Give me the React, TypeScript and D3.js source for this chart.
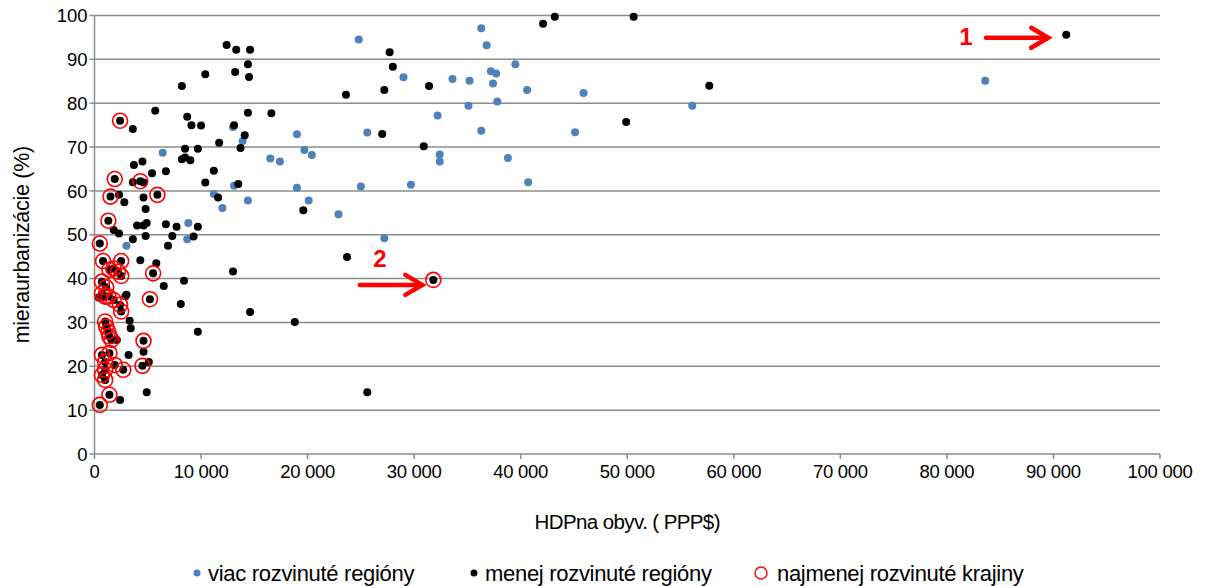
import { useRef, useEffect } from 'react'
import * as d3 from 'd3'

// [HDP na obyv. (PPP$), miera urbanizácie (%)]
const moreDeveloped = [
  [36300, 97.1], [24800, 94.5], [36800, 93.2], [39500, 88.9], [37200, 87.3], [37700, 86.8],
  [29000, 85.9], [33600, 85.5], [35200, 85.1], [37400, 84.5], [40600, 83.0], [37800, 80.4],
  [35100, 79.4], [32200, 77.2], [19000, 72.9], [25600, 73.3], [36300, 73.7], [19700, 69.3],
  [20400, 68.2], [16500, 67.4], [17400, 66.7], [32400, 68.3], [32400, 66.7], [38800, 67.5],
  [19000, 60.7], [25000, 61.0], [29700, 61.4], [40700, 62.0], [20100, 57.8], [22900, 54.7],
  [27200, 49.2], [45900, 82.3], [45100, 73.4], [56100, 79.4], [83600, 85.1], [13000, 74.6],
  [13900, 71.4], [6400, 68.7], [13100, 61.2], [11200, 59.3], [12000, 56.1], [14400, 57.8],
  [8800, 52.7], [3000, 47.5], [8700, 49.0],
]

const lessDeveloped = [
  [43200, 99.7], [42100, 98.1], [50600, 99.7], [91200, 95.6], [27700, 91.6], [28000, 88.3],
  [31400, 83.9], [27200, 83.0], [23600, 81.9], [57700, 84.0], [49900, 75.7], [16600, 77.7],
  [27000, 73.0], [30900, 70.2], [19600, 55.6], [23700, 44.9], [18800, 30.1], [25600, 14.1],
  [12400, 93.3], [13300, 92.2], [14600, 92.2], [14400, 88.9], [13200, 87.1], [14500, 86.0],
  [10400, 86.6], [8200, 83.9], [5700, 78.3], [3600, 74.1], [8700, 76.9], [9100, 75.0],
  [10000, 74.9], [13100, 75.0], [14400, 77.8], [14100, 72.7], [13700, 69.8], [11700, 71.0],
  [8500, 69.6], [9700, 69.6], [8200, 67.2], [9000, 67.0], [8500, 67.6], [3700, 65.9],
  [4500, 66.7], [5400, 64.0], [6700, 64.5], [11200, 64.6], [10400, 61.9], [13500, 61.6],
  [3600, 62.0], [4600, 61.9], [2300, 59.1], [2800, 57.4], [4600, 58.5], [4800, 55.9],
  [11600, 58.5], [4000, 52.1], [4600, 52.1], [4900, 52.7], [6700, 52.4], [7700, 51.8],
  [9700, 51.8], [1800, 51.1], [2300, 50.3], [4800, 49.7], [3600, 49.0], [7300, 49.7],
  [6900, 47.5], [9300, 49.6], [4300, 44.2], [5800, 43.5], [8400, 39.5], [6500, 38.3],
  [13000, 41.6], [400, 35.7], [2900, 36.0], [8100, 34.2], [3300, 30.4], [3400, 28.7],
  [14600, 32.4], [2100, 26.0], [9700, 27.9], [4600, 23.3], [3200, 22.6], [5100, 21.0],
  [4900, 14.1], [2400, 12.3], [3000, 36.3],
]

const leastDeveloped = [
  [2400, 76.0], [1900, 62.7], [4300, 62.2], [5900, 59.1], [1500, 58.7], [1300, 53.2],
  [500, 48.0], [800, 44.0], [2500, 44.0], [1800, 42.3], [2200, 41.6], [1400, 42.0],
  [2500, 40.6], [5500, 41.2], [700, 39.3], [1100, 38.0], [700, 36.6], [1000, 35.9],
  [1300, 35.9], [1800, 35.1], [2400, 34.0], [2500, 32.5], [5200, 35.3], [1000, 30.2],
  [1100, 29.0], [1300, 27.9], [1400, 26.8], [1600, 26.0], [4600, 25.8], [700, 22.6],
  [1400, 23.0], [1000, 21.0], [1900, 20.3], [2700, 19.2], [1000, 19.2], [700, 18.0],
  [4500, 20.1], [1000, 16.9], [1400, 13.5], [500, 11.2], [31800, 39.7],
]

const xTicks = [0, 10000, 20000, 30000, 40000, 50000, 60000, 70000, 80000, 90000, 100000]
const yTicks = [0, 10, 20, 30, 40, 50, 60, 70, 80, 90, 100]

const legendItems = ['viac rozvinuté regióny', 'menej rozvinuté regióny', 'najmenej rozvinuté krajiny']

const W = 1207
const H = 586
const margin = { top: 15.5, right: 47, bottom: 132, left: 94.5 }
const font = 'Arial, "Liberation Sans", sans-serif'
const gridColor = '#8c8c8c'

const App = () => {
  const chartRef = useRef<SVGGElement>(null)

  useEffect(() => {
    const g = d3.select(chartRef.current)
    g.selectAll('*').remove()

    const x = d3.scaleLinear().domain([0, 100000]).range([margin.left, W - margin.right])
    const y = d3.scaleLinear().domain([0, 100]).range([H - margin.bottom, margin.top])
    const fmt = (v: number) => d3.format(',')(v).replace(/,/g, '\u00a0')

    // gridlines
    g.append('g')
      .selectAll('line')
      .data(yTicks.slice(1))
      .join('line')
      .attr('x1', margin.left).attr('x2', x(100000))
      .attr('y1', d => y(d)).attr('y2', d => y(d))
      .attr('stroke', gridColor).attr('stroke-width', 1.5)

    // y axis
    const yAxis = g.append('g')
    yAxis.append('line')
      .attr('x1', margin.left).attr('x2', margin.left)
      .attr('y1', y(0)).attr('y2', y(100))
      .attr('stroke', gridColor).attr('stroke-width', 1.5)
    yAxis.selectAll('line.tick').data(yTicks).join('line').attr('class', 'tick')
      .attr('x1', margin.left - 5).attr('x2', margin.left)
      .attr('y1', d => y(d)).attr('y2', d => y(d))
      .attr('stroke', gridColor).attr('stroke-width', 1.5)
    yAxis.selectAll('text').data(yTicks).join('text')
      .attr('x', margin.left - 7).attr('y', d => y(d))
      .attr('dy', '0.36em').attr('text-anchor', 'end')
      .attr('font-family', font).attr('font-size', 18.5).attr('fill', '#000')
      .text(d => d)

    // x axis
    const xAxis = g.append('g')
    xAxis.append('line')
      .attr('x1', margin.left).attr('x2', x(100000))
      .attr('y1', y(0)).attr('y2', y(0))
      .attr('stroke', gridColor).attr('stroke-width', 1.5)
    xAxis.selectAll('line.tick').data(xTicks).join('line').attr('class', 'tick')
      .attr('x1', d => x(d)).attr('x2', d => x(d))
      .attr('y1', y(0)).attr('y2', y(0) + 5)
      .attr('stroke', gridColor).attr('stroke-width', 1.5)
    xAxis.selectAll('text').data(xTicks).join('text')
      .attr('x', d => x(d)).attr('y', y(0) + 24)
      .attr('text-anchor', 'middle')
      .attr('font-family', font).attr('font-size', 18.5).attr('fill', '#000')
      .attr('letter-spacing', -0.3)
      .text(d => fmt(d))

    // axis titles
    g.append('text')
      .attr('x', (margin.left + x(100000)) / 2).attr('y', 529)
      .attr('text-anchor', 'middle')
      .attr('font-family', font).attr('font-size', 20.5).attr('letter-spacing', -0.6)
      .text('HDPna obyv. ( PPP$)')
    g.append('text')
      .attr('transform', `translate(29, ${(y(0) + y(100)) / 2 + 10}) rotate(-90)`)
      .attr('text-anchor', 'middle')
      .attr('font-family', font).attr('font-size', 21.5).attr('letter-spacing', -0.3)
      .text('mieraurbanizácie (%)')

    // points
    g.append('g').selectAll('circle').data(moreDeveloped).join('circle')
      .attr('cx', d => x(d[0])).attr('cy', d => y(d[1])).attr('r', 4)
      .attr('fill', '#4f81bd')
    g.append('g').selectAll('circle').data([...lessDeveloped, ...leastDeveloped]).join('circle')
      .attr('cx', d => x(d[0])).attr('cy', d => y(d[1])).attr('r', 4)
      .attr('fill', '#000')
    g.append('g').selectAll('circle').data(leastDeveloped).join('circle')
      .attr('cx', d => x(d[0])).attr('cy', d => y(d[1])).attr('r', 7.5)
      .attr('fill', 'none').attr('stroke', '#ff0000').attr('stroke-width', 1.6)

    // annotations 1 and 2
    const arrow = (x0: number, x1: number, yy: number, label: string, lx: number, ly: number) => {
      const a = g.append('g').attr('stroke', '#ff0000').attr('stroke-width', 4.5)
        .attr('fill', 'none').attr('stroke-linecap', 'round')
      a.append('line').attr('x1', x0).attr('x2', x1 - 2).attr('y1', yy).attr('y2', yy)
      a.append('path').attr('d', `M${x1 - 17},${yy - 10} L${x1},${yy} L${x1 - 17},${yy + 10}`)
        .attr('stroke-linejoin', 'miter')
      g.append('text').attr('x', lx).attr('y', ly).attr('text-anchor', 'middle')
        .attr('dy', '0.36em')
        .attr('font-family', font).attr('font-size', 24).attr('font-weight', 'bold')
        .attr('fill', '#ff0000').text(label)
    }
    const p1 = lessDeveloped[3]
    arrow(986, x(p1[0]) - 18, y(p1[1]) + 3, '1', 966, y(p1[1]) + 2)
    const p2 = leastDeveloped[leastDeveloped.length - 1]
    arrow(360, x(p2[0]) - 11, y(p2[1]) + 5, '2', 380, 258)

    // legend
    const lg = g.append('g').attr('font-family', font).attr('font-size', 22)
    const lx = [197, 474, 761]
    lg.append('circle').attr('cx', lx[0]).attr('cy', 573).attr('r', 3.5).attr('fill', '#4f81bd')
    lg.append('circle').attr('cx', lx[1]).attr('cy', 573).attr('r', 3.5).attr('fill', '#000')
    lg.append('circle').attr('cx', lx[2]).attr('cy', 573).attr('r', 6)
      .attr('fill', 'none').attr('stroke', '#ff0000').attr('stroke-width', 1.4)
    lg.selectAll('text').data(legendItems).join('text')
      .attr('x', (_d, i) => lx[i] + (i === 2 ? 16 : 11)).attr('y', 573).attr('dy', '0.36em')
      .attr('letter-spacing', -0.3)
      .text(d => d)
  })

  return (
    <svg width={W} height={H} style={{ position: 'absolute', left: 0, top: 0, background: '#fff' }}>
      <g ref={chartRef}></g>
    </svg>
  )
}

export default App
